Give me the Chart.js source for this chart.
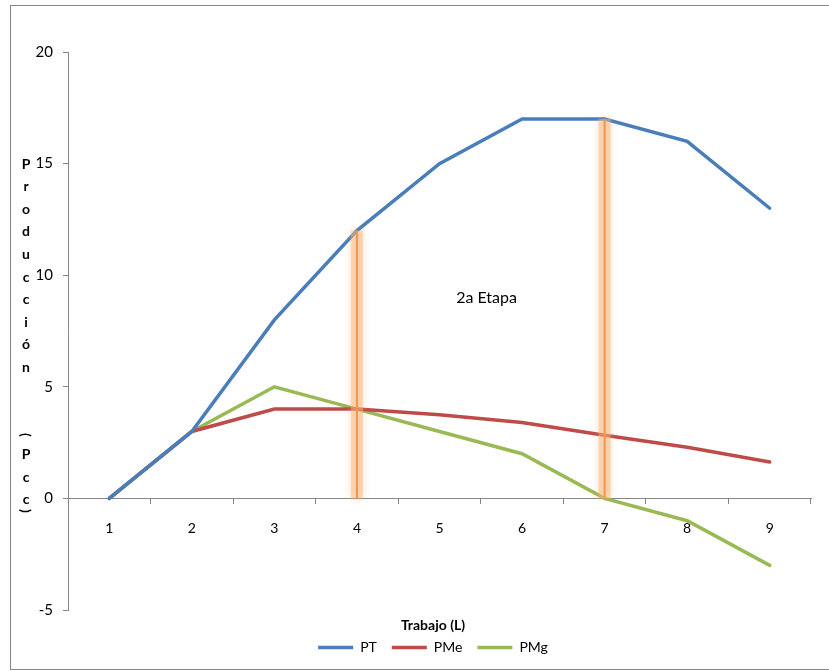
<!DOCTYPE html>
<html>
<head>
<meta charset="utf-8">
<script src="https://cdn.jsdelivr.net/npm/chart.js@4.4.0/dist/chart.umd.min.js"></script>
<style>
  html, body { margin: 0; padding: 0; background: #fff; }
  #wrap { width: 829px; height: 671px; }
</style>
</head>
<body>
<div id="wrap"><canvas id="myChart"></canvas></div>
<script>
// data
const labels = ['1', '2', '3', '4', '5', '6', '7', '8', '9'];
const ptValues = [0, 3, 8, 12, 15, 17, 17, 16, 13];
const pmeValues = [0, 3, 4, 4, 3.75, 3.4, 2.83, 2.29, 1.63];
const pmgValues = [0, 3, 5, 4, 3, 2, 0, -1, -3];
const yTicks = [-5, 0, 5, 10, 15, 20];

// stage markers (category index, top value)
const stageIdx = [3, 6];
const stageTop = [12, 17];
const noteText = '2a Etapa';
const noteX = 4.57;
const noteY = 9;

const yTitle = 'Producción (Pcc)';
const xTitle = 'Trabajo (L)';

const FONT = 'Lato, "Liberation Sans", sans-serif';
const GRAY = '#868686';

// frame around the whole chart
const framePlugin = {
    id: 'frame',
    beforeDraw(chart) {
        const ctx = chart.ctx;
        ctx.save();
        ctx.fillStyle = '#fff';
        ctx.fillRect(0, 0, chart.width, chart.height);
        ctx.strokeStyle = GRAY;
        ctx.lineWidth = 1;
        ctx.strokeRect(10.5, 5.5, chart.width, chart.height - 7);
        ctx.restore();
    },
    afterLayout(chart) {
        // centre legend + axis title under the plot like the original
        chart.legend.left += 12.5;
        chart.legend.right += 12.5;
    }
};

// glowing orange stage lines + note text
const stagePlugin = {
    id: 'stages',
    afterDatasetsDraw(chart) {
        const ctx = chart.ctx;
        const xs = chart.scales.x, ys = chart.scales.y;
        ctx.save();
        stageIdx.forEach((idx, i) => {
            const x = xs.getPixelForValue(idx);
            const y0 = ys.getPixelForValue(0);
            const y1 = ys.getPixelForValue(stageTop[i]);
            ctx.shadowColor = 'rgba(245,160,90,0.8)';
            ctx.shadowBlur = 7;
            ctx.fillStyle = 'rgba(245,185,130,0.45)';
            ctx.fillRect(x - 6, y1, 12, y0 - y1);
            ctx.shadowBlur = 0;
            ctx.strokeStyle = '#F79646';
            ctx.lineWidth = 2;
            ctx.beginPath();
            ctx.moveTo(x, y1);
            ctx.lineTo(x, y0);
            ctx.stroke();
        });
        ctx.fillStyle = '#000';
        ctx.font = '16px ' + FONT;
        ctx.textAlign = 'center';
        ctx.textBaseline = 'middle';
        ctx.fillText(noteText, xs.getPixelForValue(noteX), ys.getPixelForValue(noteY));
        ctx.restore();
    }
};

// stacked vertical y axis title
const yTitlePlugin = {
    id: 'yTitle',
    afterDraw(chart) {
        const ctx = chart.ctx;
        const pos = [164, 186.6, 209.2, 231.8, 254.4, 277, 299.6, 322.2, 344.8, 367.4, 390, 435, 454, 477, 499, 511];
        ctx.save();
        ctx.fillStyle = '#000';
        ctx.font = 'bold 14px ' + FONT;
        ctx.textAlign = 'center';
        ctx.textBaseline = 'middle';
        [...yTitle].forEach((ch, i) => {
            if (ch === ' ') return;
            if (ch === '(' || ch === ')') {
                ctx.save();
                ctx.translate(26, pos[i]);
                ctx.rotate(Math.PI / 2);
                ctx.fillText(ch, 0, 0);
                ctx.restore();
            } else {
                ctx.fillText(ch, 26, pos[i]);
            }
        });
        ctx.restore();
    }
};

const data = {
    labels: labels,
    datasets: [{
        label: 'PT',
        data: ptValues,
        borderColor: '#4A7EBB',
        backgroundColor: '#4A7EBB',
        borderWidth: 3.5
    }, {
        label: 'PMe',
        data: pmeValues,
        borderColor: '#BE4B48',
        backgroundColor: '#BE4B48',
        borderWidth: 3.5
    }, {
        label: 'PMg',
        data: pmgValues,
        borderColor: '#98B954',
        backgroundColor: '#98B954',
        borderWidth: 3.5
    }]
};

const config = {
    type: 'line',
    data: data,
    options: {
        responsive: true,
        maintainAspectRatio: false,
        animation: false,
        elements: {
            point: { radius: 0, hoverRadius: 0 },
            line: { tension: 0, borderCapStyle: 'round' }
        },
        layout: {
            padding: { left: 30, right: 18, top: 52, bottom: 6.6 }
        },
        scales: {
            x: {
                position: { y: 0 },
                offset: true,
                grid: {
                    drawOnChartArea: false,
                    drawTicks: true,
                    tickLength: 5,
                    color: GRAY,
                    offset: true
                },
                border: { display: true, color: GRAY, width: 1 },
                ticks: {
                    color: '#000',
                    font: { family: FONT, size: 14 },
                    padding: 17,
                    maxRotation: 0
                },
                afterFit(scale) { scale.height = 0; }
            },
            y: {
                min: -5,
                max: 20,
                afterBuildTicks(scale) {
                    scale.ticks = yTicks.map(v => ({ value: v }));
                },
                grid: {
                    drawOnChartArea: false,
                    drawTicks: true,
                    tickLength: 5,
                    color: GRAY
                },
                border: { display: true, color: GRAY, width: 1 },
                ticks: {
                    color: '#000',
                    font: { family: FONT, size: 15 },
                    padding: 10
                },
                afterFit(scale) { scale.width = 38; }
            }
        },
        plugins: {
            tooltip: { enabled: false },
            legend: {
                position: 'bottom',
                title: {
                    display: true,
                    text: xTitle,
                    color: '#000',
                    font: { family: FONT, size: 14, weight: 'bold' },
                    padding: { top: 8.6, bottom: -10 }
                },
                labels: {
                    color: '#000',
                    font: { family: FONT, size: 14 },
                    usePointStyle: true,
                    pointStyle: 'line',
                    pointStyleWidth: 35,
                    padding: 15
                }
            }
        }
    },
    plugins: [framePlugin, stagePlugin, yTitlePlugin]
};

// render
const myChart = new Chart(document.getElementById('myChart'), config);
</script>
</body>
</html>
